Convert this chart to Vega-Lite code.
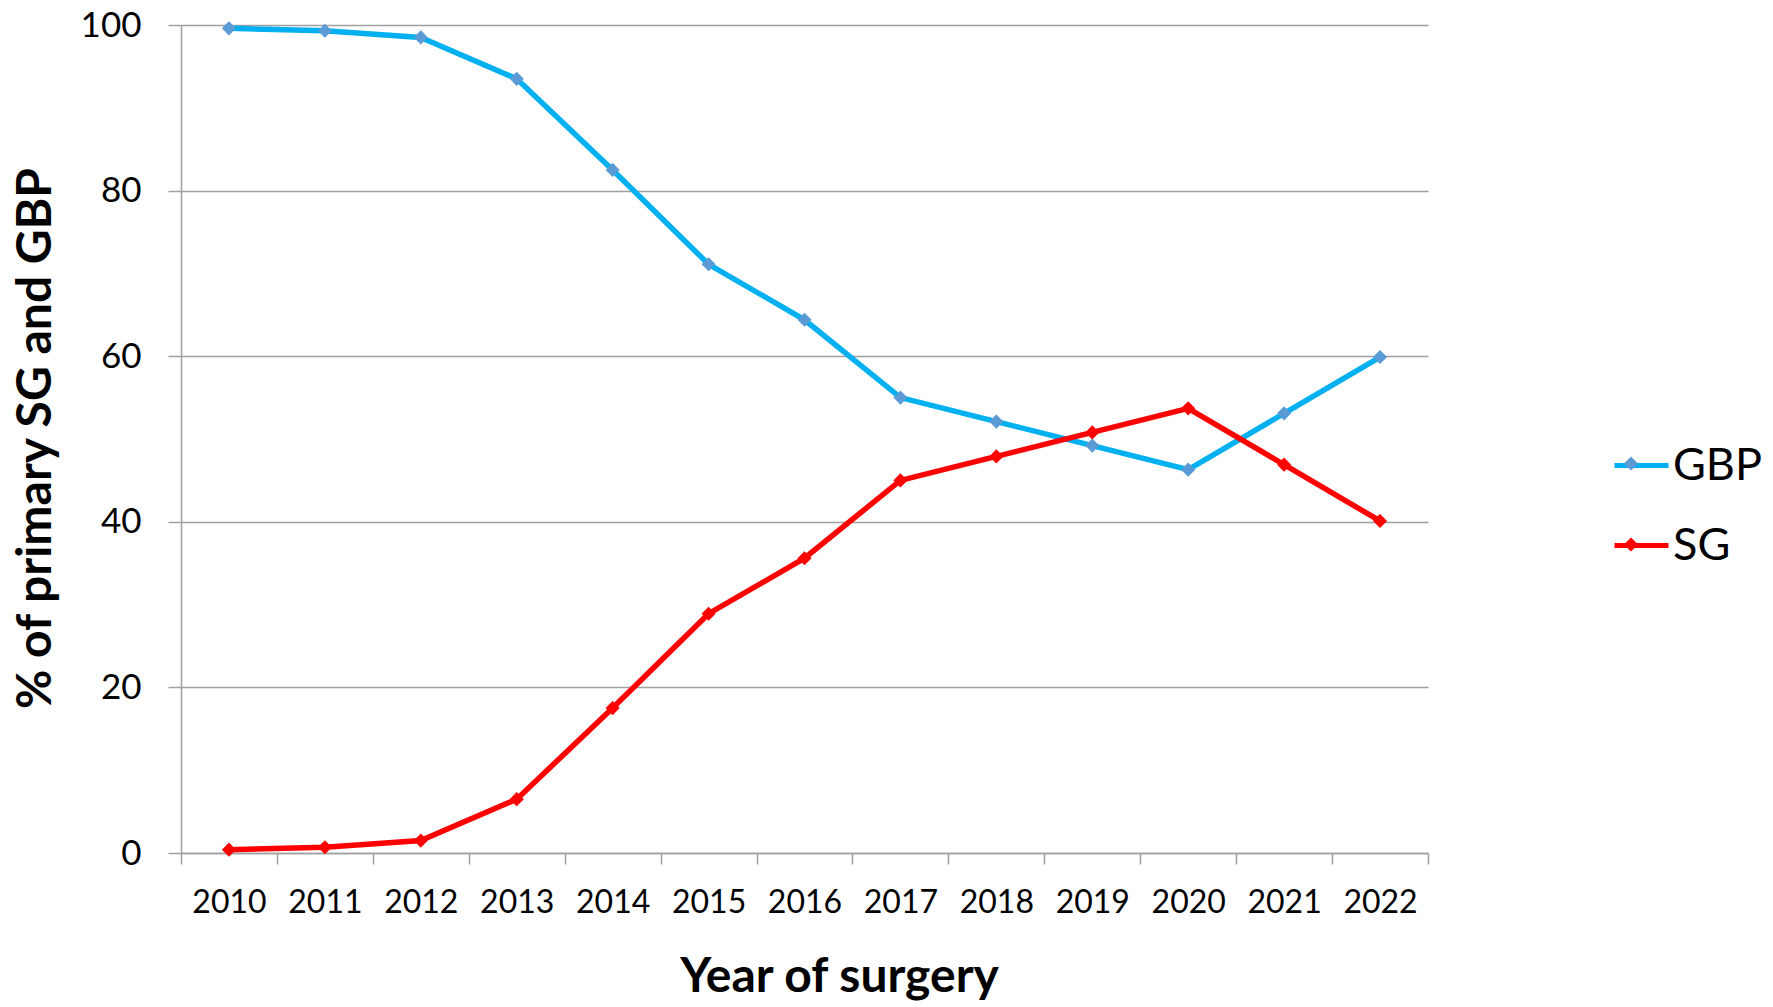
{
  "$schema": "https://vega.github.io/schema/vega-lite/v6.json",
  "width": 1247,
  "height": 828,
  "autosize": {"type": "none"},
  "padding": {"left": 181, "top": 25, "right": 345, "bottom": 154},
  "background": "white",
  "config": {"view": {"stroke": null}, "font": "Lato"},
  "data": {
    "values": [
      {"year": 2010, "series": "GBP", "pct": 99.6},
      {"year": 2011, "series": "GBP", "pct": 99.3},
      {"year": 2012, "series": "GBP", "pct": 98.5},
      {"year": 2013, "series": "GBP", "pct": 93.5},
      {"year": 2014, "series": "GBP", "pct": 82.5},
      {"year": 2015, "series": "GBP", "pct": 71.1},
      {"year": 2016, "series": "GBP", "pct": 64.4},
      {"year": 2017, "series": "GBP", "pct": 55.0},
      {"year": 2018, "series": "GBP", "pct": 52.1},
      {"year": 2019, "series": "GBP", "pct": 49.2},
      {"year": 2020, "series": "GBP", "pct": 46.3},
      {"year": 2021, "series": "GBP", "pct": 53.1},
      {"year": 2022, "series": "GBP", "pct": 59.9},
      {"year": 2010, "series": "SG", "pct": 0.4},
      {"year": 2011, "series": "SG", "pct": 0.7},
      {"year": 2012, "series": "SG", "pct": 1.5},
      {"year": 2013, "series": "SG", "pct": 6.5},
      {"year": 2014, "series": "SG", "pct": 17.5},
      {"year": 2015, "series": "SG", "pct": 28.9},
      {"year": 2016, "series": "SG", "pct": 35.6},
      {"year": 2017, "series": "SG", "pct": 45.0},
      {"year": 2018, "series": "SG", "pct": 47.9},
      {"year": 2019, "series": "SG", "pct": 50.8},
      {"year": 2020, "series": "SG", "pct": 53.7},
      {"year": 2021, "series": "SG", "pct": 46.9},
      {"year": 2022, "series": "SG", "pct": 40.1}
    ]
  },
  "encoding": {
    "x": {
      "field": "year",
      "type": "quantitative",
      "scale": {"domain": [2009.5, 2022.5], "nice": false, "zero": false},
      "axis": {
        "values": [2009.5, 2010.5, 2011.5, 2012.5, 2013.5, 2014.5, 2015.5, 2016.5, 2017.5, 2018.5, 2019.5, 2020.5, 2021.5, 2022.5],
        "labelExpr": "datum.value > 2022 ? '' : format(datum.value + 0.5, 'd')",
        "labelOffset": 47.96,
        "labelFlush": false,
        "labelOverlap": false,
        "labelBound": false,
        "grid": false,
        "domainColor": "#A0A0A0",
        "domainWidth": 1.5,
        "tickColor": "#A0A0A0",
        "tickWidth": 1.5,
        "tickSize": 11,
        "labelFont": "Lato",
        "labelFontSize": 32,
        "labelColor": "black",
        "labelPadding": 23,
        "labelBaseline": "top",
        "title": "Year of surgery",
        "titleFont": "Lato",
        "titleFontSize": 48,
        "titleFontWeight": "bold",
        "titleColor": "black",
        "titleX": 658,
        "titleY": 138,
        "titleAlign": "center",
        "titleBaseline": "alphabetic"
      }
    },
    "y": {
      "field": "pct",
      "type": "quantitative",
      "scale": {"domain": [0, 100], "nice": false},
      "axis": {
        "values": [0, 20, 40, 60, 80, 100],
        "grid": true,
        "gridColor": "#A0A0A0",
        "gridWidth": 1.5,
        "domainColor": "#A0A0A0",
        "domainWidth": 1.5,
        "tickColor": "#A0A0A0",
        "tickWidth": 1.5,
        "tickSize": 13,
        "labelFont": "Lato",
        "labelFontSize": 35,
        "labelColor": "black",
        "labelPadding": 27,
        "labelFlush": false,
        "labelOverlap": false,
        "title": "% of primary SG and GBP",
        "titleFont": "Lato",
        "titleFontSize": 48,
        "titleFontWeight": "bold",
        "titleColor": "black",
        "titleAngle": -90,
        "titleX": -131,
        "titleY": 413,
        "titleAlign": "center",
        "titleBaseline": "alphabetic"
      }
    }
  },
  "layer": [
    {
      "mark": {"type": "line", "strokeWidth": 5.5},
      "encoding": {
        "color": {
          "field": "series",
          "type": "nominal",
          "scale": {"range": ["#00B0F0", "#FF0000"]},
          "legend": {
            "orient": "none",
            "legendX": 1431,
            "legendY": 411,
            "padding": 0,
            "title": null,
            "symbolType": "stroke",
            "symbolSize": 2916,
            "symbolStrokeWidth": 5,
            "labelFont": "Lato",
            "labelFontSize": 45,
            "labelColor": "black",
            "labelOffset": 2,
            "rowPadding": 27
          }
        }
      }
    },
    {
      "mark": {"type": "point", "shape": "diamond", "filled": true, "size": 200, "opacity": 1},
      "encoding": {
        "fill": {
          "field": "series",
          "type": "nominal",
          "scale": {"domain": ["GBP", "SG"], "range": ["#5B9BD5", "#FF0000"]},
          "legend": {
            "orient": "none",
            "legendX": 1442.5,
            "legendY": 431,
            "padding": 0,
            "title": null,
            "symbolType": "diamond",
            "symbolSize": 200,
            "symbolStrokeWidth": 0,
            "symbolOpacity": 1,
            "labelFont": "Lato",
            "labelFontSize": 1,
            "labelExpr": "''",
            "labelOffset": 0,
            "rowPadding": 66
          }
        }
      }
    }
  ]
}
